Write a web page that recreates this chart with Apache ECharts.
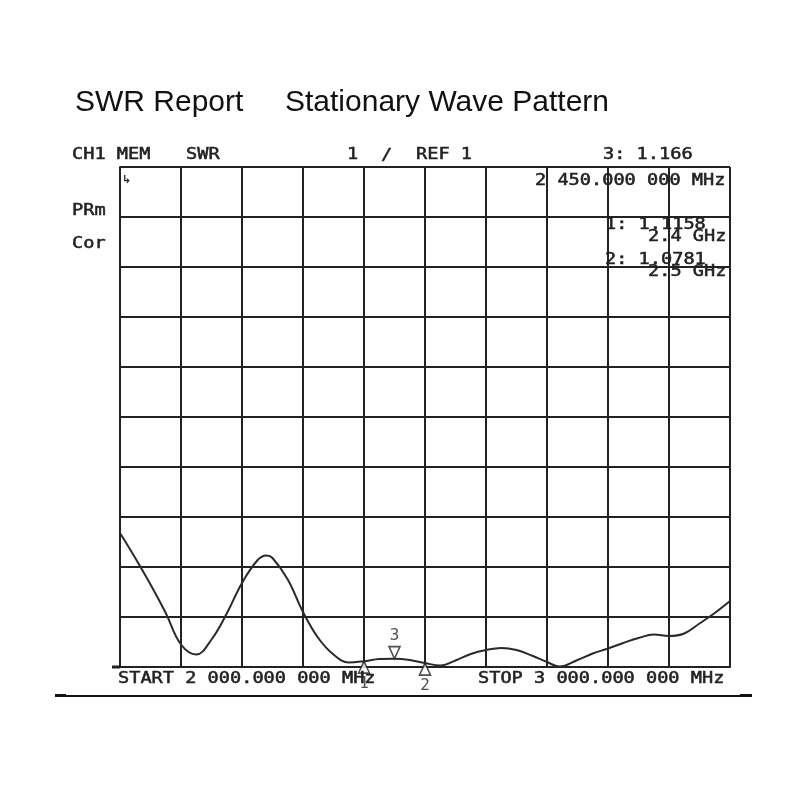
<!DOCTYPE html>
<html>
<head>
<meta charset="utf-8">
<script src="https://cdn.jsdelivr.net/npm/echarts@6/dist/echarts.min.js"></script>
<style>html,body{margin:0;padding:0;background:#fff}#c{width:800px;height:800px}</style>
</head>
<body>
<div id="c"></div>
<script>
// Frequency (MHz) and SWR readings of the trace
const freqs = [2000,2025,2050,2075,2100,2125,2150,2175,2200,2225,2240,2250,2275,2300,2325,2350,2375,2400,2425,2450,2475,2500,2525,2550,2575,2600,2625,2650,2675,2700,2720,2750,2775,2800,2825,2850,2875,2900,2925,2950,2975,3000];
const swr   = [3.68,3.18,2.65,2.08,1.45,1.25,1.55,2.07,2.68,3.13,3.23,3.18,2.75,2.10,1.58,1.25,1.09,1.1158,1.16,1.166,1.14,1.0781,1.03,1.13,1.26,1.34,1.38,1.34,1.23,1.10,1.01,1.14,1.27,1.37,1.48,1.58,1.65,1.62,1.67,1.87,2.08,2.32];

// Markers
const markerNames = ['1','2','3'];
const markerFreqs = [2400,2500,2450];
const markerVals  = [1.1158,1.0781,1.166];

// Axis settings
const xMin = 2000, xMax = 3000, xStep = 100;
const yMin = 1, yMax = 11, yStep = 1;

// Texts
const titleLeft = 'SWR Report';
const titleRight = 'Stationary Wave Pattern';
const headerTexts = ['CH1 MEM','SWR','1','/','REF 1','3: 1.166'];
const sideTexts = ['PRm','Cor'];
const readoutTexts = ['2 450.000 000 MHz','1: 1.1158','2.4 GHz','2: 1.0781','2.5 GHz'];
const startText = 'START 2 000.000 000 MHz';
const stopText = 'STOP 3 000.000 000 MHz';

const ink = '#222';
const mono = '15px "DejaVu Sans Mono"';
const sx = 1.24;

function mt(text, x, y) {
  return {
    type: 'text', x: x, y: y, scaleX: sx, z: 100,
    style: { text: text, font: mono, fill: ink, stroke: ink, lineWidth: 0.5,
             textAlign: 'left', textVerticalAlign: 'middle' }
  };
}

const chart = echarts.init(document.getElementById('c'), null, {renderer: 'canvas'});

const traceData = freqs.map((f, i) => [f, swr[i]]);
const markerData = markerFreqs.map((f, i) => ({
  name: markerNames[i],
  value: [f, markerVals[i]],
  symbolRotate: markerNames[i] === '3' ? 180 : 0,
  symbolOffset: markerNames[i] === '3' ? [0, '-50%'] : [0, '50%'],
  label: markerNames[i] === '3'
    ? { position: 'top', distance: 2 }
    : { position: 'bottom', distance: 2 }
}));

chart.setOption({
  animation: false,
  backgroundColor: '#fff',
  grid: { left: 120, top: 167, width: 610, height: 500, containLabel: false },
  xAxis: {
    type: 'value', min: xMin, max: xMax, interval: xStep,
    axisLine: { show: true, onZero: false, lineStyle: { color: ink, width: 2 } },
    axisTick: { show: false },
    axisLabel: { show: false },
    splitLine: { show: true, lineStyle: { color: ink, width: 2 } }
  },
  yAxis: {
    type: 'value', min: yMin, max: yMax, interval: yStep,
    axisLine: { show: true, lineStyle: { color: ink, width: 2 } },
    axisTick: { show: false },
    axisLabel: { show: false },
    splitLine: { show: true, lineStyle: { color: ink, width: 2 } }
  },
  series: [
    {
      type: 'line', data: traceData, smooth: 0.4, showSymbol: false,
      lineStyle: { color: '#2a2a2a', width: 2 }, z: 5
    },
    {
      type: 'scatter', data: markerData, symbol: 'triangle', symbolSize: [11, 12],
      itemStyle: { color: '#fff', borderColor: ink, borderWidth: 1.6 },
      label: { show: true, formatter: '{b}', fontSize: 16, fontFamily: 'DejaVu Sans Mono', color: ink },
      z: 10
    }
  ],
  graphic: [
    { type: 'text', x: 75, y: 103, style: { text: titleLeft, font: '30px "Liberation Sans"', fill: '#111', textVerticalAlign: 'middle' } },
    { type: 'text', x: 285, y: 103, style: { text: titleRight, font: '30px "Liberation Sans"', fill: '#111', textVerticalAlign: 'middle' } },
    mt(headerTexts[0], 72, 155),
    mt(headerTexts[1], 186, 155),
    mt(headerTexts[2], 347, 155),
    mt(headerTexts[3], 381, 156),
    mt(headerTexts[4], 416, 155),
    mt(headerTexts[5], 603, 155),
    mt(sideTexts[0], 72, 211),
    mt(sideTexts[1], 72, 244),
    mt(readoutTexts[0], 535, 181),
    mt(readoutTexts[1], 605, 225),
    mt(readoutTexts[2], 648, 237),
    mt(readoutTexts[3], 605, 260),
    mt(readoutTexts[4], 648, 272),
    mt(startText, 118, 679),
    mt(stopText, 478, 679),
    { type: 'text', x: 122, y: 180, z: 100, style: { text: '↳', font: 'bold 11px "DejaVu Sans"', fill: ink, textVerticalAlign: 'middle' } },
    { type: 'line', shape: { x1: 55, y1: 696, x2: 752, y2: 696 }, style: { stroke: '#111', lineWidth: 2 } },
    { type: 'line', shape: { x1: 55, y1: 695.5, x2: 66, y2: 695.5 }, style: { stroke: '#111', lineWidth: 3 } },
    { type: 'line', shape: { x1: 740, y1: 695.5, x2: 752, y2: 695.5 }, style: { stroke: '#111', lineWidth: 3 } },
    { type: 'line', shape: { x1: 112, y1: 667, x2: 120, y2: 667 }, style: { stroke: ink, lineWidth: 3 } }
  ]
});
</script>
</body>
</html>
